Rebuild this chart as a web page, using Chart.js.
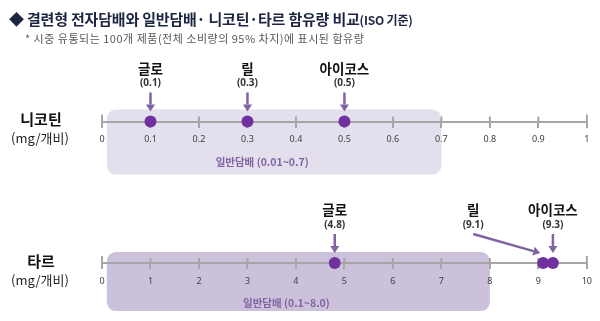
<!DOCTYPE html>
<html>
<head>
<meta charset="utf-8">
<script src="https://cdn.jsdelivr.net/npm/chart.js@4.4.0/dist/chart.umd.min.js"></script>
<style>
  html, body { margin: 0; padding: 0; background: #fff; width: 600px; height: 321px; overflow: hidden; }
  #wrap { position: relative; width: 600px; height: 321px; font-family: "Noto Sans CJK KR", "Noto Sans", sans-serif; }
  canvas { position: absolute; left: 0; top: 0; }
  .txt { position: absolute; white-space: nowrap; }
  #title { left: 9px; top: 8px; font-size: 15px; font-weight: 700; color: #1c2541; letter-spacing: -0.2px; }
  #title small { font-size: 12px; }
  #sub { left: 25px; top: 30px; font-size: 11px; color: #595959; letter-spacing: 0.5px; }
</style>
</head>
<body>
<div id="wrap">
  <canvas id="chart" width="600" height="321"></canvas>
  <div class="txt" id="title">◆ 결련형 전자담배와 일반담배· 니코틴·타르 함유량 비교<small>(ISO 기준)</small></div>
  <div class="txt" id="sub">* 시중 유통되는 100개 제품(전체 소비량의 95% 차지)에 표시된 함유량</div>
</div>
<script>
// ─── 데이터 ───
const PRODUCTS = ['글로', '릴', '아이코스'];
const NICOTINE = [0.1, 0.3, 0.5];
const TAR = [4.8, 9.1, 9.3];
const NIC_TICKS = [0, 0.1, 0.2, 0.3, 0.4, 0.5, 0.6, 0.7, 0.8, 0.9, 1];
const TAR_TICKS = [0, 1, 2, 3, 4, 5, 6, 7, 8, 9, 10];
const NIC_RANGE = [0.01, 0.7];   // 일반담배 니코틴 범위
const TAR_RANGE = [0.1, 8.0];    // 일반담배 타르 범위

// ─── 레이아웃 / 스타일 ───
const NIC_ROW = 120;
const TAR_ROW = 267;
const DOT = '#7030a0';
const ARROW = '#8064a2';
const AXIS = '#a6a6a6';
const FONT = '"Noto Sans CJK KR", "Noto Sans", sans-serif';

// 라벨을 옆으로 빼는 경우 (타르 - 릴)
const LABEL_SHIFT = { tar: [0, -70, 0] };

function drawArrow(ctx, x1, y1, x2, y2) {
  const a = Math.atan2(y2 - y1, x2 - x1);
  const hl = 7, hw = 4.5;
  const bx = x2 - hl * Math.cos(a), by = y2 - hl * Math.sin(a);
  ctx.strokeStyle = ARROW;
  ctx.fillStyle = ARROW;
  ctx.lineWidth = 2.5;
  ctx.beginPath();
  ctx.moveTo(x1, y1);
  ctx.lineTo(bx, by);
  ctx.stroke();
  ctx.beginPath();
  ctx.moveTo(x2, y2);
  ctx.lineTo(bx + hw * Math.sin(a), by - hw * Math.cos(a));
  ctx.lineTo(bx - hw * Math.sin(a), by + hw * Math.cos(a));
  ctx.closePath();
  ctx.fill();
}

function roundRect(ctx, x, y, w, h, r) {
  ctx.beginPath();
  ctx.moveTo(x + r, y);
  ctx.arcTo(x + w, y, x + w, y + h, r);
  ctx.arcTo(x + w, y + h, x, y + h, r);
  ctx.arcTo(x, y + h, x, y, r);
  ctx.arcTo(x, y, x + w, y, r);
  ctx.closePath();
}

const rows = [
  { key: 'nic', axis: 'xn', row: NIC_ROW, range: NIC_RANGE, ticks: NIC_TICKS, band: '#e4dfec', top: 12, bottom: 53, labelDy: 41,
    name: '니코틴', fmt: v => v.toFixed(1), rangeText: '일반담배 (0.01~0.7)', data: NICOTINE },
  { key: 'tar', axis: 'xt', row: TAR_ROW, range: TAR_RANGE, ticks: TAR_TICKS, band: '#ccc1da', top: 11, bottom: 48, labelDy: 40,
    name: '타르', fmt: v => v.toFixed(1), rangeText: '일반담배 (0.1~8.0)', data: TAR },
];

const decor = {
  id: 'decor',
  beforeDraw(chart) {
    const ctx = chart.ctx;
    const y = chart.scales.y;
    ctx.save();
    rows.forEach(r => {
      const sx = chart.scales[r.axis];
      const x0 = sx.getPixelForValue(r.range[0]);
      const x1 = sx.getPixelForValue(r.range[1]);
      const py = y.getPixelForValue(r.row);
      ctx.fillStyle = r.band;
      roundRect(ctx, x0, py - r.top, x1 - x0, r.top + r.bottom, 9);
      ctx.fill();
      ctx.fillStyle = ARROW;
      ctx.font = 'bold 10.5px ' + FONT;
      ctx.textAlign = 'center';
      ctx.textBaseline = 'middle';
      ctx.fillText(r.rangeText, (x0 + x1) / 2 - 12, py + r.labelDy);
    });
    ctx.restore();
  },
  beforeDatasetsDraw(chart) {
    // 눈금 위쪽 절반
    const ctx = chart.ctx;
    const y = chart.scales.y;
    ctx.save();
    ctx.strokeStyle = AXIS;
    ctx.lineWidth = 2;
    rows.forEach(r => {
      const sx = chart.scales[r.axis];
      const py = y.getPixelForValue(r.row);
      r.ticks.forEach((t, i) => {
        const px = sx.getPixelForValue(t);
        const up = (i === 0 || i === r.ticks.length - 1) ? 7 : 5;
        ctx.beginPath();
        ctx.moveTo(px, py);
        ctx.lineTo(px, py - up);
        ctx.stroke();
      });
    });
    ctx.restore();
  },
  afterDatasetsDraw(chart) {
    const ctx = chart.ctx;
    const y = chart.scales.y;
    ctx.save();
    ctx.textAlign = 'center';
    ctx.textBaseline = 'middle';
    rows.forEach((r, di) => {
      const py = y.getPixelForValue(r.row);
      // 왼쪽 항목명
      ctx.fillStyle = '#111';
      ctx.font = 'bold 15px ' + FONT;
      ctx.fillText(r.name, 41, py - 2);
      ctx.fillStyle = '#222';
      ctx.font = '13px ' + FONT;
      ctx.fillText('(mg/개비)', 40, py + 17);

      const meta = chart.getDatasetMeta(di);
      const shift = LABEL_SHIFT[r.key] || [];
      meta.data.forEach((pt, i) => {
        const lx = pt.x + (shift[i] || 0);
        ctx.fillStyle = '#111';
        ctx.font = 'bold 13.5px ' + FONT;
        ctx.fillText(PRODUCTS[i], lx, py - 53);
        ctx.fillStyle = '#333';
        ctx.font = 'bold 10px "Noto Sans", sans-serif';
        ctx.fillText('(' + r.fmt(r.data[i]) + ')', lx, py - 38);
        if (shift[i]) {
          drawArrow(ctx, lx, py - 29, pt.x - 3, py - 10);
        } else {
          drawArrow(ctx, pt.x, py - 29, pt.x, py - 10);
        }
      });
    });
    ctx.restore();
  },
};

function xAxis(row, min, max, ticks) {
  return {
    type: 'linear',
    axis: 'x',
    position: { y: row },
    min, max,
    afterBuildTicks: s => { s.ticks = ticks.map(v => ({ value: v })); },
    afterFit: s => { s.height = 0; },
    grid: { drawOnChartArea: false, drawTicks: true, tickLength: 5, color: AXIS, lineWidth: 2 },
    border: { display: true, color: AXIS, width: 2 },
    ticks: { padding: 8, color: '#404040', font: { size: 9, family: '"Noto Sans", sans-serif' }, maxRotation: 0, autoSkip: false, callback: v => String(v) },
  };
}

new Chart(document.getElementById('chart'), {
  type: 'scatter',
  data: {
    datasets: [
      { label: '니코틴', xAxisID: 'xn', yAxisID: 'y', data: NICOTINE.map(v => ({ x: v, y: NIC_ROW })),
        pointRadius: 6, pointHoverRadius: 6, backgroundColor: DOT, borderWidth: 0, clip: false },
      { label: '타르', xAxisID: 'xt', yAxisID: 'y', data: TAR.map(v => ({ x: v, y: TAR_ROW })),
        pointRadius: 6, pointHoverRadius: 6, backgroundColor: DOT, borderWidth: 0, clip: false },
    ],
  },
  options: {
    responsive: false,
    animation: false,
    layout: { padding: { left: 102, right: 13, top: 0, bottom: 0 } },
    plugins: { legend: { display: false }, tooltip: { enabled: false }, title: { display: false } },
    scales: {
      y: { display: false, min: 0, max: 321, reverse: true },
      xn: xAxis(NIC_ROW, 0, 1, NIC_TICKS),
      xt: xAxis(TAR_ROW, 0, 10, TAR_TICKS),
    },
  },
  plugins: [decor],
});
</script>
</body>
</html>
